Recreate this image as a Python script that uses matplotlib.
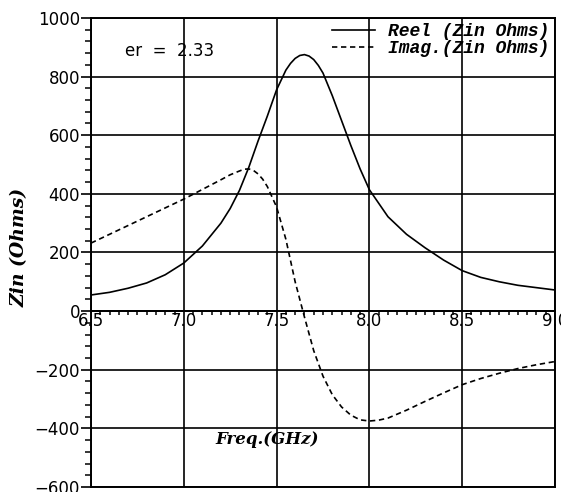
import matplotlib
matplotlib.use('Agg')
import matplotlib.pyplot as plt
from matplotlib.ticker import MultipleLocator, FormatStrFormatter

freq_re = [6.5, 6.6, 6.7, 6.8, 6.9, 7.0, 7.1, 7.2, 7.25, 7.3, 7.35, 7.4, 7.45, 7.5,
           7.55, 7.575, 7.6, 7.625, 7.65, 7.675, 7.7, 7.725, 7.75, 7.8, 7.85, 7.9,
           7.95, 8.0, 8.1, 8.2, 8.3, 8.4, 8.5, 8.6, 8.7, 8.8, 8.9, 9.0]
zin_re = [55, 64, 78, 96, 124, 164, 222, 300, 350, 412, 490, 580, 665, 755,
          822, 845, 862, 872, 875, 870, 858, 838, 812, 735, 650, 565,
          485, 414, 322, 262, 216, 174, 138, 115, 100, 88, 80, 72]

freq_im = [6.5, 6.6, 6.7, 6.8, 6.9, 7.0, 7.1, 7.2, 7.25, 7.3, 7.325, 7.35, 7.375,
           7.4, 7.425, 7.45, 7.5, 7.55, 7.6, 7.65, 7.7, 7.75, 7.8, 7.85, 7.9, 7.95,
           8.0, 8.05, 8.1, 8.2, 8.3, 8.4, 8.5, 8.6, 8.7, 8.8, 8.9, 9.0]
zin_im = [232, 262, 292, 322, 352, 382, 415, 448, 465, 478, 484, 485, 480,
          468, 450, 425, 355, 245, 100, -20, -135, -222, -285, -327, -355, -371,
          -375, -372, -365, -338, -308, -279, -251, -230, -212, -196, -183, -172]

legend_labels = ['Reel (Zin Ohms)', 'Imag.(Zin Ohms)']

fig = plt.figure(figsize=(5.61, 4.92), dpi=100)
fig.patch.set_facecolor('white')
ax = fig.add_axes([0.1622, 0.0102, 0.8271, 0.9533])

ax.plot(freq_re, zin_re, color='black', linewidth=1.2, label=legend_labels[0])
ax.plot(freq_im, zin_im, color='black', linewidth=1.2, linestyle=(0, (3.2, 2.2)),
        label=legend_labels[1])

ax.set_xlim(6.5, 9.0)
ax.set_ylim(-600, 1000)

ax.xaxis.set_major_locator(MultipleLocator(0.5))
ax.xaxis.set_minor_locator(MultipleLocator(0.05))
ax.xaxis.set_major_formatter(FormatStrFormatter('%.1f'))
ax.yaxis.set_major_locator(MultipleLocator(200))
ax.yaxis.set_minor_locator(MultipleLocator(40))

ax.grid(True, which='major', color='black', linewidth=1.2)
ax.axhline(-600, color='black', linewidth=1.4, clip_on=False)

for s in ax.spines.values():
    s.set_linewidth(1.4)
ax.spines['bottom'].set_position(('data', 0))

ax.tick_params(axis='y', which='major', direction='out', length=7, width=1.2,
               labelsize=12, pad=1)
ax.tick_params(axis='y', which='minor', direction='out', length=4, width=1.1)
ax.tick_params(axis='x', which='major', direction='out', length=0, labelsize=12, pad=1)
ax.tick_params(axis='x', which='minor', direction='out', length=3, width=1.1)

leg = ax.legend(loc='upper right', bbox_to_anchor=(1.0, 1.0), frameon=False,
                prop={'family': 'Liberation Mono', 'style': 'italic',
                      'weight': 'bold', 'size': 13},
                handlelength=2.35, handletextpad=0.75, borderpad=0.0,
                borderaxespad=0.3, labelspacing=0.0)

fig.text(125 / 561, 1 - 51 / 492, 'er  =  2.33', fontsize=12, ha='left', va='center')
fig.text(20 / 561, 1 - 247 / 492, 'Zin (Ohms)', rotation=90, ha='center', va='center',
         family='DejaVu Serif', style='italic', weight='bold', fontsize=13.5)
fig.text(267 / 561, 1 - 440 / 492, 'Freq.(GHz)', ha='center', va='center',
         family='DejaVu Serif', style='italic', weight='bold', fontsize=12)

fig.savefig('out.png', dpi=100)
